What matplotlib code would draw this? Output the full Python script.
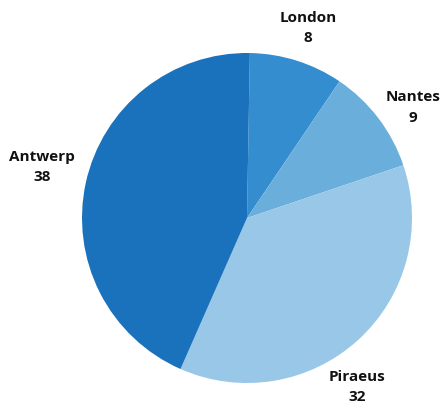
import math
import matplotlib.pyplot as plt

ports = ["London", "Nantes", "Piraeus", "Antwerp"]
counts = [8, 9, 32, 38]
colors = ["#338dce", "#6aafdb", "#98c7e8", "#1a72bd"]

# label placement (angle in degrees, distance in radii)
label_pos = [(72.2, 1.21), (33.6, 1.21), (-56.9, 1.22), (166.0, 1.28)]

fig = plt.figure(figsize=(4.43, 4.07), dpi=100)
ax = fig.add_axes([82 / 443, 24 / 407, 330 / 443, 330 / 407])

wedges, texts = ax.pie(counts, colors=colors, startangle=89, counterclock=False,
                       labels=[f"{p}\n{c}" for p, c in zip(ports, counts)],
                       wedgeprops=dict(linewidth=0),
                       textprops=dict(fontsize=11, fontweight="bold",
                                      family="Open Sans", color="#111111"))

for t, (ang, dist) in zip(texts, label_pos):
    a = math.radians(ang)
    t.set_position((dist * math.cos(a), dist * math.sin(a)))
    t.set_ha("center")
    t.set_va("center")
    t.set_multialignment("center")
    t.set_linespacing(1.55)

ax.set_xlim(-1, 1)
ax.set_ylim(-1, 1)
ax.set_aspect("auto")
ax.axis("off")

fig.savefig("out.png", dpi=100)
